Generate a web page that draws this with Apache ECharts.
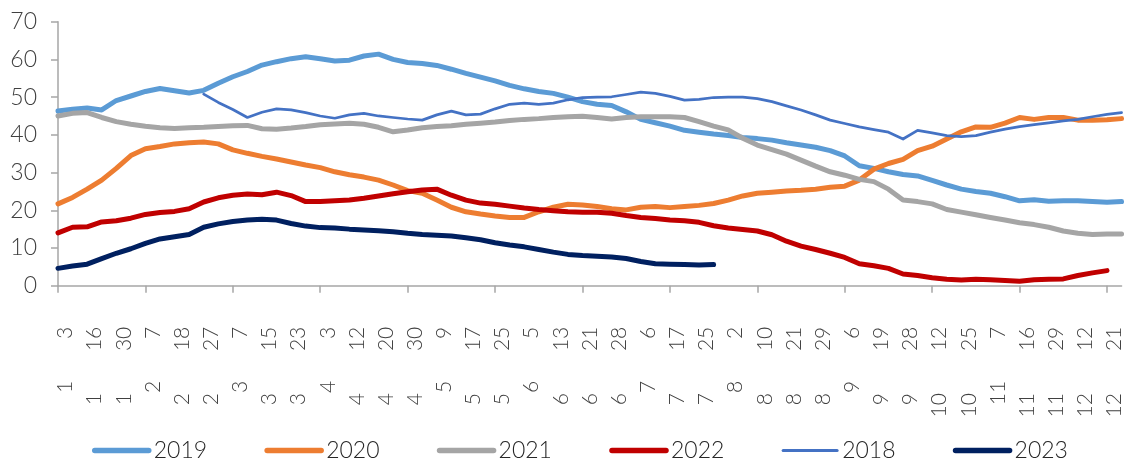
<!DOCTYPE html>
<html><head><meta charset="utf-8">
<script src="https://cdn.jsdelivr.net/npm/echarts@6/dist/echarts.min.js"></script>
<style>html,body{margin:0;padding:0;background:#fff}#c{width:1125px;height:459px}</style>
</head><body><div id="c"></div>
<script>
const dates = ["1/3","1/9","1/16","1/23","1/30","2/3","2/7","2/13","2/18","2/22","2/27","3/3","3/7","3/11","3/15","3/19","3/23","3/28","4/3","4/7","4/12","4/16","4/20","4/25","4/30","5/5","5/9","5/13","5/17","5/21","5/25","5/30","6/5","6/9","6/13","6/17","6/21","6/25","6/28","7/2","7/6","7/12","7/17","7/21","7/25","7/29","8/2","8/6","8/10","8/16","8/21","8/25","8/29","9/2","9/6","9/13","9/19","9/23","9/28","10/5","10/12","10/18","10/25","11/1","11/7","11/11","11/16","11/22","11/29","12/5","12/12","12/16","12/21","12/26"];

const s2019 = [46.3,46.8,47.1,46.6,49.1,50.3,51.5,52.3,51.7,51.1,51.8,53.7,55.4,56.8,58.5,59.4,60.2,60.7,60.2,59.6,59.8,60.9,61.4,60.0,59.2,58.9,58.4,57.4,56.3,55.3,54.3,53.1,52.2,51.5,51.0,50.0,48.8,48.1,47.8,46.1,44.1,43.2,42.3,41.2,40.7,40.2,39.8,39.3,39.0,38.6,37.9,37.3,36.7,35.8,34.4,31.8,31.1,30.2,29.5,29.1,27.9,26.7,25.6,25.0,24.5,23.6,22.5,22.8,22.4,22.5,22.5,22.3,22.1,22.3];
const s2020 = [21.7,23.4,25.6,28.0,31.1,34.5,36.3,36.9,37.6,37.9,38.1,37.6,36.0,35.1,34.3,33.6,32.8,32.0,31.3,30.2,29.4,28.8,28.0,26.7,25.2,24.5,22.7,20.8,19.6,19.0,18.5,18.1,18.1,19.6,20.8,21.6,21.4,21.0,20.4,20.1,20.8,21.0,20.7,21.0,21.3,21.8,22.7,23.8,24.5,24.8,25.1,25.3,25.6,26.1,26.4,28.0,30.9,32.4,33.5,35.8,37.0,38.9,40.8,42.1,42.0,43.1,44.6,44.1,44.6,44.6,43.9,43.9,44.0,44.3];
const s2021 = [45.0,45.7,45.9,44.6,43.5,42.8,42.3,41.9,41.7,41.9,42.0,42.2,42.4,42.5,41.6,41.5,41.8,42.2,42.7,42.9,43.1,42.8,42.0,40.8,41.3,41.9,42.2,42.4,42.8,43.1,43.4,43.8,44.1,44.3,44.6,44.8,44.9,44.6,44.2,44.6,44.8,44.8,44.8,44.6,43.5,42.3,41.3,39.1,37.3,36.1,34.9,33.3,31.7,30.2,29.3,28.2,27.6,25.6,22.7,22.3,21.7,20.2,19.5,18.8,18.1,17.4,16.7,16.2,15.5,14.5,13.9,13.6,13.7,13.7];
const s2022 = [14.0,15.5,15.6,16.9,17.2,17.9,18.9,19.4,19.7,20.4,22.2,23.3,24.0,24.3,24.1,24.8,23.9,22.3,22.3,22.5,22.7,23.2,23.8,24.4,24.9,25.4,25.6,24.0,22.7,21.9,21.6,21.1,20.6,20.2,19.9,19.6,19.5,19.5,19.2,18.6,18.1,17.8,17.4,17.2,16.8,15.9,15.3,14.9,14.5,13.5,11.8,10.5,9.6,8.6,7.5,5.8,5.3,4.6,3.1,2.7,2.1,1.7,1.5,1.7,1.6,1.4,1.2,1.6,1.7,1.8,2.7,3.4,4.0,null];
const s2018 = [null,null,null,null,null,null,null,null,null,null,50.8,48.6,46.7,44.6,46.0,46.9,46.6,45.9,45.0,44.4,45.3,45.7,45.0,44.6,44.2,43.9,45.3,46.3,45.3,45.5,46.9,48.1,48.4,48.1,48.4,49.3,49.9,50.0,50.1,50.7,51.3,51.0,50.2,49.2,49.4,49.9,50.0,50.0,49.6,48.8,47.7,46.6,45.3,43.9,43.0,42.1,41.4,40.7,38.9,41.2,40.5,39.8,39.5,39.8,40.7,41.5,42.2,42.7,43.2,43.7,44.1,44.8,45.4,45.9];
const s2023 = [4.6,5.2,5.7,7.2,8.6,9.8,11.2,12.4,13.0,13.6,15.5,16.4,17.0,17.4,17.6,17.4,16.5,15.8,15.4,15.3,15.0,14.8,14.6,14.3,13.9,13.6,13.4,13.2,12.7,12.2,11.4,10.8,10.3,9.6,8.9,8.3,8.0,7.8,7.6,7.2,6.4,5.8,5.7,5.6,5.5,5.6];

const seriesNames = ["2019","2020","2021","2022","2018","2023"];
const seriesData = [s2019,s2020,s2021,s2022,s2018,s2023];
const colors = ["#5B9BD5","#ED7D31","#A5A5A5","#C00000","#4472C4","#002060"];
const widths = [5,5,5,5,2.75,5];
const legendWidths = [5.5,5.5,5.5,5.5,3,5.5];

const chart = echarts.init(document.getElementById('c'), null, {renderer:'canvas'});
const axisGray = '#A6A6A6';
const lblFont = 'Lato, "Noto Sans", sans-serif';
chart.setOption({
  animation:false,
  grid:{left:58, right:-3, top:21.7, bottom:173.3, containLabel:false},
  legend:{
    data: seriesNames.map((n,i)=>({name:n, lineStyle:{width:legendWidths[i], cap:'round'}})),
    left: 92, top: 439, padding: 0,
    itemWidth: 54, itemHeight: 12, itemGap: 57.3,
    itemStyle:{opacity:0},
    textStyle:{fontSize:23, fontFamily:lblFont, fontWeight:300, color:'#262626', width:52}
  },
  xAxis:{
    type:'category', data: dates, boundaryGap:false,
    axisLine:{lineStyle:{color:axisGray, width:1.5}},
    axisTick:{show:true, interval:5, length:7, lineStyle:{color:axisGray, width:1.5}},
    axisLabel:{
      interval:1, rotate:90, margin:41, verticalAlign:'top', lineHeight:15,
      fontSize:21, fontFamily:lblFont, fontWeight:300, color:'#404040',
      formatter:function(v){const p=v.split('/');return p[0]+'{g| }'+p[1];},
      rich:{ g:{width:42} }
    },
    splitLine:{show:false}
  },
  yAxis:{
    type:'value', min:0, max:70, interval:10,
    axisLine:{show:true, lineStyle:{color:axisGray, width:1.5}},
    axisTick:{show:true, length:7, lineStyle:{color:axisGray, width:1.5}},
    axisLabel:{margin:21, fontSize:23, fontFamily:lblFont, fontWeight:300, color:'#404040'},
    splitLine:{show:false}
  },
  series: seriesNames.map((n,i)=>({
    name:n, type:'line', data:seriesData[i], symbol:'none', smooth:false,
    connectNulls:false,
    lineStyle:{color:colors[i], width:widths[i], cap:'round', join:'round'},
    itemStyle:{color:colors[i]}
  }))
});
</script></body></html>
